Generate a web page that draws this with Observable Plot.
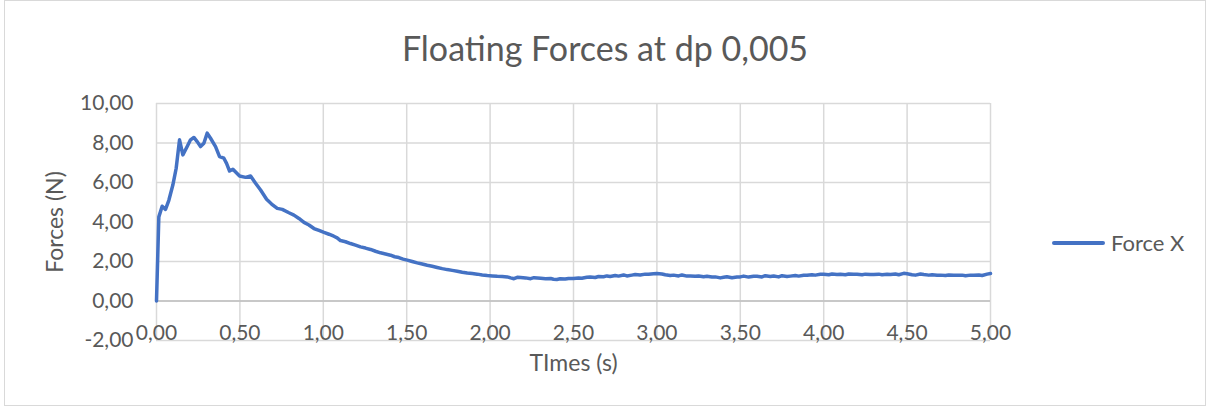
<!DOCTYPE html>
<html>
<head>
<meta charset="utf-8">
<script src="https://cdn.jsdelivr.net/npm/d3@7"></script>
<script src="https://cdn.jsdelivr.net/npm/@observablehq/plot@0.6"></script>
<style>
  html, body { margin: 0; padding: 0; background: #fff; }
  #chart { position: relative; width: 1208px; height: 409px; font-family: Lato, "Open Sans", sans-serif; color: #595959; overflow: hidden; }
  #frame { position: absolute; left: 4px; top: 0px; width: 1202px; height: 406px; border: 1px solid #d9d9d9; box-sizing: border-box; }
  #title { position: absolute; left: 0; width: 1210px; top: 27px; text-align: center; font-size: 34px; line-height: 42px; color: #595959; }
  #plot { position: absolute; left: 0; top: 80px; }
  #legend { position: absolute; left: 1052px; top: 229px; display: flex; align-items: center; font-size: 22px; color: #595959; }
  #legend .sw { width: 53px; height: 4px; background: #4472C4; margin-right: 6px; border-radius: 2px; }
  #plot svg g[aria-label="x-axis label"] text, #plot svg g[aria-label="y-axis label"] text { font-size: 23px; }
</style>
</head>
<body>
<div id="chart">
  <div id="frame"></div>
  <div id="title">Floating Forces at dp 0,005</div>
  <div id="plot"></div>
  <div id="legend"><div class="sw"></div><span>Force X</span></div>
</div>
<script>
const seriesName = "Force X";
const times = [
  0.000, 0.014, 0.034, 0.054, 0.074, 0.098, 0.118, 0.138, 0.158, 0.184,
  0.204, 0.224, 0.244, 0.264, 0.284, 0.304, 0.324, 0.354, 0.378, 0.404,
  0.420, 0.438, 0.458, 0.498, 0.534, 0.564, 0.594, 0.624, 0.660, 0.690,
  0.724, 0.754, 0.794, 0.824, 0.854, 0.884, 0.914, 0.944, 0.974, 1.004,
  1.034, 1.063, 1.083, 1.103, 1.133, 1.163, 1.193, 1.223, 1.253, 1.283,
  1.313, 1.343, 1.373, 1.403, 1.428, 1.453, 1.478, 1.503, 1.533, 1.563,
  1.593, 1.623, 1.653, 1.683, 1.713, 1.743, 1.773, 1.803, 1.833, 1.863,
  1.893, 1.923, 1.953, 1.983, 2.013, 2.043, 2.073, 2.103, 2.123, 2.143,
  2.163, 2.183, 2.213, 2.243, 2.263, 2.303, 2.333, 2.363, 2.380, 2.400,
  2.420, 2.450, 2.470, 2.500, 2.530, 2.550, 2.580, 2.600, 2.630, 2.650,
  2.680, 2.700, 2.720, 2.750, 2.770, 2.800, 2.820, 2.850, 2.870, 2.900,
  2.930, 2.950, 2.980, 3.000, 3.030, 3.050, 3.080, 3.100, 3.130, 3.150,
  3.180, 3.200, 3.230, 3.250, 3.280, 3.300, 3.330, 3.350, 3.380, 3.400,
  3.420, 3.450, 3.480, 3.500, 3.520, 3.550, 3.580, 3.600, 3.630, 3.650,
  3.680, 3.700, 3.730, 3.750, 3.780, 3.800, 3.830, 3.850, 3.880, 3.900,
  3.930, 3.950, 3.980, 4.000, 4.030, 4.050, 4.080, 4.100, 4.130, 4.150,
  4.180, 4.200, 4.230, 4.250, 4.280, 4.300, 4.330, 4.350, 4.380, 4.400,
  4.430, 4.450, 4.480, 4.500, 4.530, 4.550, 4.580, 4.600, 4.630, 4.650,
  4.680, 4.700, 4.730, 4.750, 4.780, 4.800, 4.830, 4.850, 4.880, 4.900,
  4.930, 4.950, 4.980, 5.000
];
const forceX = [
  0.00, 4.26, 4.80, 4.64, 5.10, 5.87, 6.72, 8.16, 7.40, 7.82,
  8.16, 8.28, 8.07, 7.82, 7.99, 8.50, 8.24, 7.82, 7.31, 7.23,
  6.97, 6.58, 6.67, 6.33, 6.26, 6.33, 5.96, 5.62, 5.15, 4.91,
  4.69, 4.64, 4.47, 4.35, 4.18, 3.98, 3.85, 3.67, 3.57, 3.47,
  3.38, 3.28, 3.20, 3.06, 3.00, 2.91, 2.83, 2.74, 2.68, 2.61,
  2.52, 2.44, 2.38, 2.32, 2.24, 2.20, 2.12, 2.07, 2.00, 1.93,
  1.87, 1.81, 1.76, 1.70, 1.64, 1.59, 1.55, 1.51, 1.46, 1.42,
  1.39, 1.36, 1.32, 1.29, 1.27, 1.25, 1.24, 1.22, 1.17, 1.13,
  1.20, 1.19, 1.17, 1.13, 1.18, 1.15, 1.13, 1.14, 1.10, 1.09,
  1.13, 1.11, 1.14, 1.14, 1.17, 1.15, 1.20, 1.22, 1.19, 1.24,
  1.23, 1.27, 1.24, 1.29, 1.26, 1.32, 1.27, 1.31, 1.34, 1.32,
  1.36, 1.35, 1.38, 1.39, 1.37, 1.33, 1.29, 1.31, 1.27, 1.32,
  1.26, 1.27, 1.25, 1.27, 1.23, 1.25, 1.21, 1.22, 1.17, 1.20,
  1.23, 1.18, 1.22, 1.22, 1.26, 1.21, 1.25, 1.25, 1.22, 1.28,
  1.24, 1.27, 1.22, 1.28, 1.24, 1.26, 1.29, 1.26, 1.30, 1.30,
  1.33, 1.31, 1.35, 1.35, 1.33, 1.37, 1.34, 1.36, 1.33, 1.37,
  1.35, 1.36, 1.33, 1.36, 1.34, 1.34, 1.36, 1.33, 1.35, 1.34,
  1.37, 1.33, 1.40, 1.38, 1.33, 1.31, 1.37, 1.34, 1.31, 1.33,
  1.30, 1.31, 1.29, 1.32, 1.30, 1.30, 1.31, 1.28, 1.31, 1.30,
  1.32, 1.29, 1.36, 1.39
];
const xTicks = [0, 0.5, 1, 1.5, 2, 2.5, 3, 3.5, 4, 4.5, 5];
const yTicks = [-2, 0, 2, 4, 6, 8, 10];

const data = times.map((t, i) => ({ t, f: forceX[i], s: seriesName }));
const fmt = d => d3.format(".2f")(d).replace(".", ",").replace("\u2212", "-");

const plot = Plot.plot({
  width: 1208,
  height: 310,
  marginLeft: 156,
  marginRight: 218,
  marginTop: 23,
  marginBottom: 50,
  style: { fontFamily: "Lato, 'Open Sans', sans-serif", fontSize: "21px", color: "#595959", background: "transparent" },
  x: { domain: [0, 5], ticks: xTicks },
  y: { domain: [-2, 10], ticks: yTicks },
  marks: [
    Plot.gridX(xTicks, { stroke: "#d9d9d9", strokeOpacity: 1, strokeWidth: 1.5 }),
    Plot.gridY(yTicks, { stroke: "#d9d9d9", strokeOpacity: 1, strokeWidth: 1.5 }),
    Plot.ruleY([0], { stroke: "#bfbfbf", strokeWidth: 1.5 }),
    Plot.axisY(yTicks, { tickSize: 0, tickPadding: 23, tickFormat: fmt, fill: "#595959", label: "Forces (N)", labelAnchor: "center", labelOffset: 110, labelArrow: false }),
    Plot.axisX(xTicks, { tickSize: 0, tickPadding: 3, dy: -18, tickFormat: fmt, fill: "#595959", label: "TImes (s)", labelAnchor: "center", labelOffset: 30, labelArrow: false }),
    Plot.line(data, { x: "t", y: "f", stroke: "#4472C4", strokeWidth: 3.5, strokeLinejoin: "round", strokeLinecap: "round" })
  ]
});
document.getElementById("plot").appendChild(plot);
</script>
</body>
</html>
